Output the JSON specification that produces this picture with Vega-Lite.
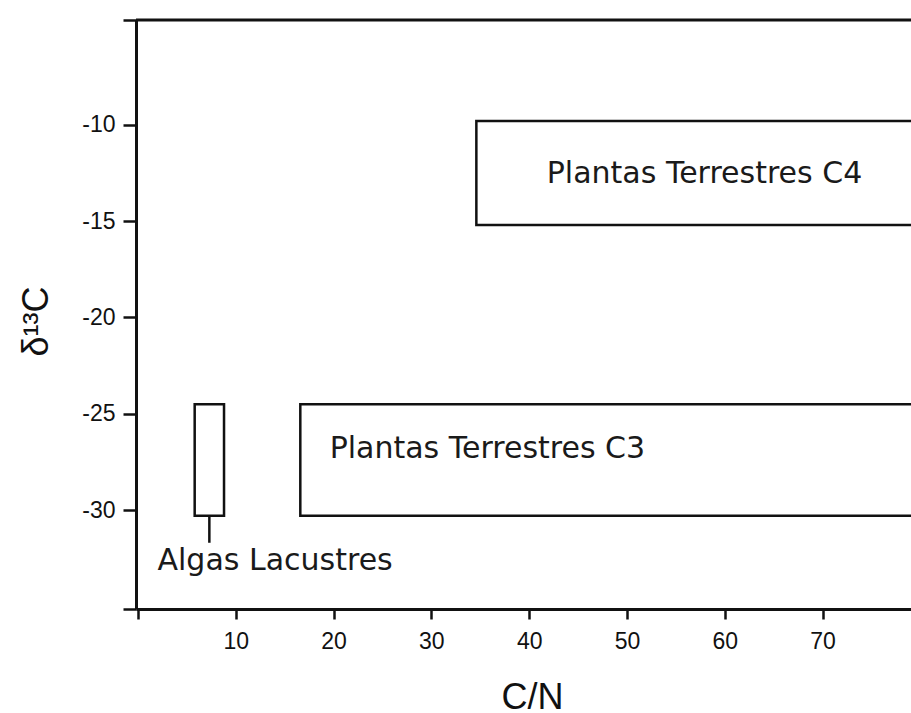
{
  "$schema": "https://vega.github.io/schema/vega-lite/v6.json",
  "autosize": "none",
  "width": 775,
  "height": 589,
  "padding": {"left": 136, "top": 20, "right": 0, "bottom": 104},
  "background": "white",
  "config": {
    "view": {"stroke": null},
    "axis": {
      "grid": false,
      "domainColor": "#111111",
      "domainWidth": 3,
      "tickColor": "#111111",
      "tickWidth": 2.5,
      "labelColor": "#111111",
      "titleColor": "#111111",
      "labelFont": "Liberation Sans",
      "titleFont": "Liberation Sans",
      "labelFontSize": 23,
      "titleFontSize": 36,
      "titleFontWeight": "normal",
      "labelFlush": false,
      "labelOverlap": false
    }
  },
  "datasets": {
    "ranges": [
      {"grupo": "Algas Lacustres", "cn_min": 5.8, "cn_max": 8.8, "d13c_min": -30.3, "d13c_max": -24.5},
      {"grupo": "Plantas Terrestres C3", "cn_min": 16.6, "cn_max": 85, "d13c_min": -30.3, "d13c_max": -24.5},
      {"grupo": "Plantas Terrestres C4", "cn_min": 34.6, "cn_max": 85, "d13c_min": -15.2, "d13c_max": -9.8}
    ],
    "labels": [
      {"texto": "Plantas Terrestres C4", "cn": 41.8, "d13c": -13.0},
      {"texto": "Plantas Terrestres C3", "cn": 19.6, "d13c": -27.3},
      {"texto": "Algas Lacustres", "cn": 2.0, "d13c": -33.1}
    ],
    "leader": [{"cn": 7.3, "d13c_from": -30.3, "d13c_to": -31.7}],
    "frame": [{"d13c": -4.55, "cn_from": -0.2, "cn_to": 79.04}]
  },
  "layer": [
    {
      "data": {"name": "ranges"},
      "mark": {"type": "rect", "fill": "white", "stroke": "#111111", "strokeWidth": 2.5, "clip": true},
      "encoding": {
        "x": {
          "field": "cn_min", "type": "quantitative", "title": "C/N",
          "scale": {"domain": [-0.2, 79.04], "nice": false, "zero": false},
          "axis": {
            "values": [0, 10, 20, 30, 40, 50, 60, 70],
            "labelExpr": "datum.value === 0 ? '' : '' + datum.value",
            "tickSize": 10,
            "labelPadding": 11,
            "titleX": 396,
            "titleY": 99,
            "titleAlign": "center",
            "titleBaseline": "alphabetic"
          }
        },
        "x2": {"field": "cn_max"},
        "y": {
          "field": "d13c_min", "type": "quantitative", "title": "δ¹³C",
          "scale": {"domain": [-35.14, -4.55], "nice": false, "zero": false},
          "axis": {
            "values": [-35.14, -30, -25, -20, -15, -10, -4.55],
            "labelExpr": "datum.value % 5 === 0 ? '' + datum.value : ''",
            "tickSize": 13,
            "labelPadding": 8,
            "titleAngle": -90,
            "titleX": -89,
            "titleY": 301,
            "titleAlign": "center",
            "titleBaseline": "alphabetic"
          }
        },
        "y2": {"field": "d13c_max"}
      }
    },
    {
      "data": {"name": "leader"},
      "mark": {"type": "rule", "stroke": "#111111", "strokeWidth": 2.5},
      "encoding": {
        "x": {"field": "cn", "type": "quantitative", "title": "C/N"},
        "y": {"field": "d13c_from", "type": "quantitative", "title": "δ¹³C"},
        "y2": {"field": "d13c_to"}
      }
    },
    {
      "data": {"name": "frame"},
      "mark": {"type": "rule", "stroke": "#111111", "strokeWidth": 3},
      "encoding": {
        "x": {"field": "cn_from", "type": "quantitative", "title": "C/N"},
        "x2": {"field": "cn_to"},
        "y": {"field": "d13c", "type": "quantitative", "title": "δ¹³C"}
      }
    },
    {
      "data": {"name": "labels"},
      "mark": {"type": "text", "font": "DejaVu Sans", "fontSize": 30, "align": "left", "baseline": "alphabetic", "color": "#1a1a1a"},
      "encoding": {
        "x": {"field": "cn", "type": "quantitative", "title": "C/N"},
        "y": {"field": "d13c", "type": "quantitative", "title": "δ¹³C"},
        "text": {"field": "texto"}
      }
    }
  ]
}
